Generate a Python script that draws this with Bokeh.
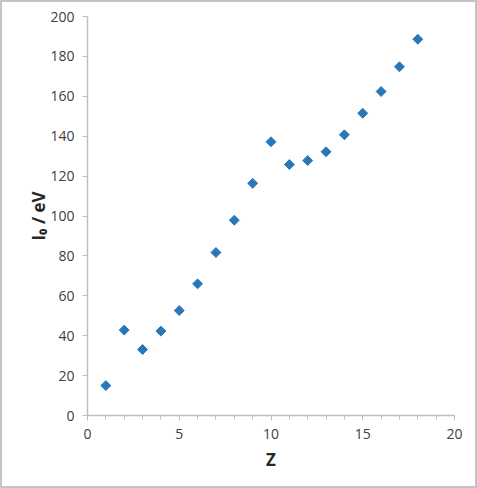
import math
from bokeh.plotting import figure
from bokeh.embed import file_html
from bokeh.resources import INLINE
from bokeh.models import Range1d, FixedTicker, ColumnDataSource

z_values = [1, 2, 3, 4, 5, 6, 7, 8, 9, 10, 11, 12, 13, 14, 15, 16, 17, 18]
i0_values = [15.0, 42.8, 33.1, 42.3, 52.6, 66.0, 81.7, 97.9, 116.4, 137.2,
             125.8, 127.8, 132.2, 140.7, 151.5, 162.4, 174.8, 188.6]
x_ticks = [0, 5, 10, 15, 20]
y_ticks = [0, 20, 40, 60, 80, 100, 120, 140, 160, 180, 200]

src = ColumnDataSource(dict(z=z_values, i0=i0_values))

p = figure(width=477, height=488, output_backend="svg", toolbar_location=None,
           x_range=Range1d(0, 20), y_range=Range1d(0, 200),
           min_border_left=85, min_border_right=25, min_border_top=14, min_border_bottom=75)
p.styles = {"border": "2px solid #c4c4c4", "box-sizing": "border-box"}
p.outline_line_color = None
p.grid.visible = False

p.scatter("z", "i0", source=src, marker="square", size=7, angle=math.pi / 4,
          fill_color="#2a77b8", line_color="#2a77b8", line_width=1)

axis_col = "#bfbfbf"
txt_col = "#404040"
font = "Open Sans"

p.xaxis.ticker = FixedTicker(ticks=x_ticks, minor_ticks=list(range(0, 21)))
p.yaxis.ticker = FixedTicker(ticks=y_ticks)
for ax in (p.xaxis, p.yaxis):
    ax.axis_line_color = axis_col
    ax.axis_line_width = 1.5
    ax.major_tick_line_color = axis_col
    ax.major_tick_out = 5
    ax.major_tick_in = 0
    ax.major_label_text_font = font
    ax.major_label_text_font_size = "14px"
    ax.major_label_text_color = txt_col
    ax.axis_label_text_font = font
    ax.axis_label_text_font_size = "17px"
    ax.axis_label_text_font_style = "bold"
    ax.axis_label_text_color = "#262626"
p.xaxis.minor_tick_line_color = axis_col
p.xaxis.minor_tick_out = 4
p.xaxis.minor_tick_in = 0
p.yaxis.minor_tick_line_color = None
p.xaxis.major_label_standoff = 8
p.yaxis.major_label_standoff = 8
p.xaxis.axis_label = "Z"
p.yaxis.axis_label = "I\u2080 / eV"
p.xaxis.axis_label_standoff = 6
p.yaxis.axis_label_standoff = -3

open("out.html", "w").write(file_html(p, INLINE))
